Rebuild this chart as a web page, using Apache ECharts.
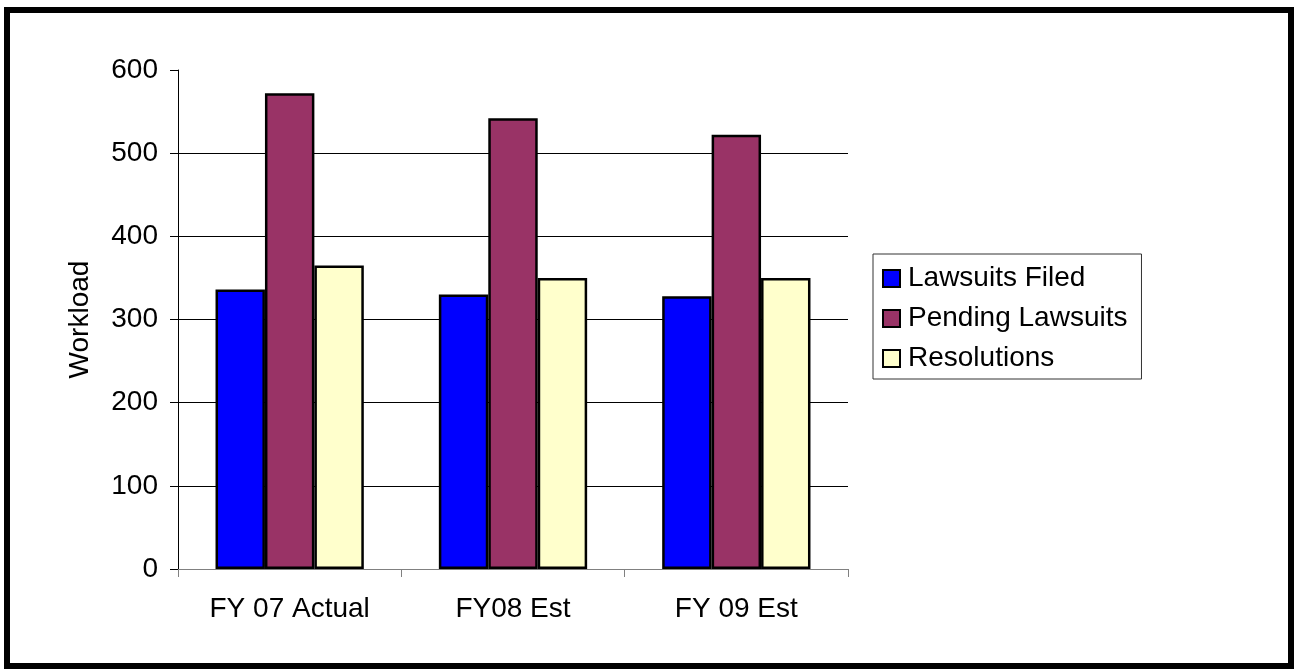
<!DOCTYPE html>
<html>
<head>
<meta charset="utf-8">
<style>
  html, body { margin: 0; padding: 0; background: #fff; }
  #chart { width: 1294px; height: 669px; }
</style>
<script src="https://cdn.jsdelivr.net/npm/echarts@6/dist/echarts.min.js"></script>
</head>
<body>
<div id="chart"></div>
<script>
// Workload by fiscal year
const categories = ['FY 07 Actual', 'FY08 Est', 'FY 09 Est'];
const lawsuitsFiled = [336, 330, 328];
const pendingLawsuits = [572, 542, 522];
const resolutions = [365, 350, 350];
const yTicks = { min: 0, max: 600, interval: 100 };

const chart = echarts.init(document.getElementById('chart'), null, { renderer: 'canvas' });

const font = 'Liberation Sans, Arial, sans-serif';
const barBorder = { borderColor: '#000', borderWidth: 2.5 };

function barSeries(name, data, color) {
  return {
    name: name,
    type: 'bar',
    data: data,
    barGap: '0%',
    barCategoryGap: '33.6%',
    itemStyle: Object.assign({ color: color }, barBorder),
    emphasis: { disabled: true }
  };
}

chart.setOption({
  animation: false,
  backgroundColor: '#fff',
  graphic: [{
    type: 'rect',
    shape: { x: 7, y: 10, width: 1284, height: 656 },
    style: { fill: 'none', stroke: '#000', lineWidth: 6 },
    silent: true
  }],
  grid: { left: 178, right: 446, top: 70, bottom: 100 },
  legend: {
    orient: 'vertical',
    left: 873,
    top: 254,
    padding: [9, 14, 5, 9],
    itemWidth: 17,
    itemHeight: 17,
    itemGap: 9,
    icon: 'rect',
    borderColor: '#333',
    borderWidth: 1,
    backgroundColor: '#fff',
    textStyle: { fontFamily: font, fontSize: 28, color: '#000', lineHeight: 31, padding: [0, 0, 0, 3] },
    data: ['Lawsuits Filed', 'Pending Lawsuits', 'Resolutions']
  },
  xAxis: {
    type: 'category',
    data: categories,
    axisLine: { lineStyle: { color: '#808080', width: 1 } },
    axisTick: { show: true, length: 8, alignWithLabel: false, lineStyle: { color: '#808080' } },
    axisLabel: {
      margin: 26,
      fontFamily: font,
      fontSize: 28,
      color: '#000'
    }
  },
  yAxis: {
    type: 'value',
    min: yTicks.min,
    max: yTicks.max,
    interval: yTicks.interval,
    name: 'Workload',
    nameLocation: 'middle',
    nameGap: 84,
    nameRotate: 90,
    nameTextStyle: { fontFamily: font, fontSize: 28, color: '#000' },
    axisLine: { show: true, lineStyle: { color: '#000', width: 1 } },
    axisTick: { show: true, length: 8, lineStyle: { color: '#000' } },
    axisLabel: { margin: 20, fontFamily: font, fontSize: 28, color: '#000' },
    splitLine: { show: true, showMaxLine: false, lineStyle: { color: '#000', width: 1 } }
  },
  series: [
    barSeries('Lawsuits Filed', lawsuitsFiled, '#0000FF'),
    barSeries('Pending Lawsuits', pendingLawsuits, '#993366'),
    barSeries('Resolutions', resolutions, '#FFFFCC')
  ]
});
</script>
</body>
</html>
